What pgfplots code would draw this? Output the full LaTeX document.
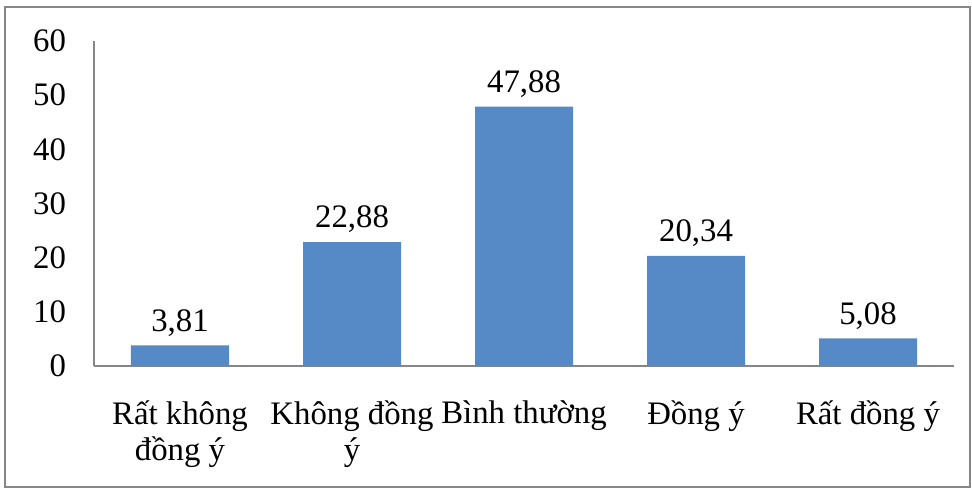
\documentclass[border=0pt]{standalone}
\usepackage{fontspec}
\setmainfont{Liberation Serif}
\usepackage{pgfplots}
\pgfplotsset{compat=1.18}
\definecolor{barblue}{RGB}{85,138,198}
\definecolor{axisgray}{RGB}{134,134,134}
\begin{document}
\begin{tikzpicture}
	\begin{axis}[
		at={(0,0)}, anchor=south west,
		scale only axis,
		width=430pt, height=162.5pt,
		font=\fontsize{16.4}{18}\selectfont,
		ybar, bar width=49pt,
		xmin=-0.5, xmax=4.5,
		ymin=0, ymax=60,
		ytick={0,10,...,60},
		xtick=data,
		xticklabels={{Rất không\\đồng ý},{Không đồng\\ý},{Bình thường},{Đồng ý},{Rất đồng ý}},
		xticklabel style={align=center, yshift=-14pt},
		yticklabel style={xshift=-10.5pt},
		major tick length=0pt,
		axis x line*=bottom, axis y line*=left,
		axis line style={axisgray, line width=0.6pt},
		separate axis lines,
		/pgf/number format/assume math mode=true,
		nodes near coords,
		nodes near coords style={yshift=1pt, /pgf/number format/.cd, use comma, fixed, fixed zerofill, precision=2},
		]
		\addplot[fill=barblue, draw=none] coordinates {(0,3.81) (1,22.88) (2,47.88) (3,20.34) (4,5.08)};
	\end{axis}
	\draw[axisgray, line width=1pt] (-44.5pt,-60.5pt) rectangle (438pt,179.5pt);
	\pgfresetboundingbox
	\path[use as bounding box] (-47pt,-61.5pt) rectangle (439pt,183pt);
\end{tikzpicture}
\end{document}
